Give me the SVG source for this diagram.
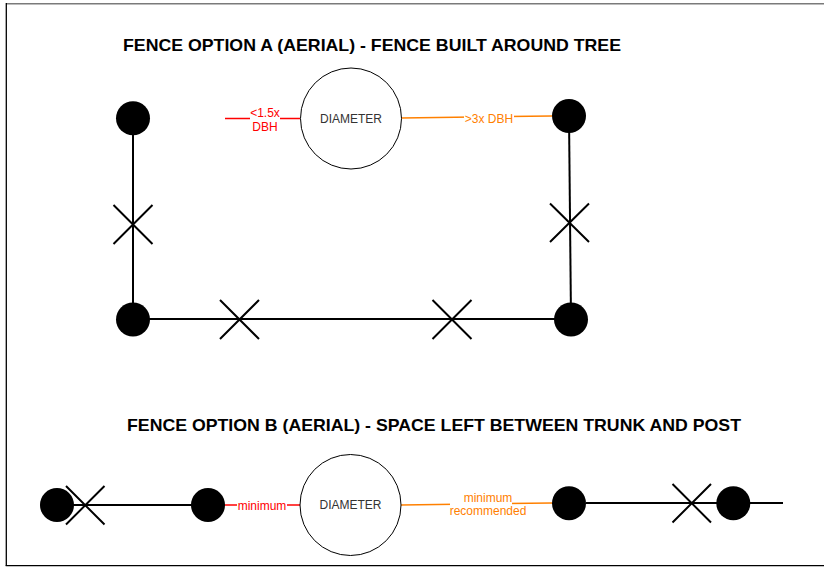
<svg xmlns="http://www.w3.org/2000/svg" width="824" height="568" viewBox="0 0 824 568">
<style>
.post{fill:#000}
.fence{stroke:#000;stroke-width:2;fill:none}
.xm{stroke:#000;stroke-width:2;fill:none}
.tree{fill:#fff;stroke:#000;stroke-width:1}
.tt{font-family:"Liberation Sans",Arial,sans-serif;font-size:12px;fill:#333;text-anchor:middle}
.title{font-family:"Liberation Sans",Arial,sans-serif;font-size:16.5px;font-weight:bold;fill:#000}
.lbl{font-family:"Liberation Sans",Arial,sans-serif;font-size:12px;text-anchor:middle}
.red{stroke:#ff0000;stroke-width:1.5;fill:none}
.org{stroke:#ff8000;stroke-width:1.5;fill:none}
.bg{fill:#fff}
</style>
<rect x="0" y="0" width="824" height="568" fill="#fff"/>
<g id="frame">
<line x1="6" y1="3.7" x2="824" y2="3.7" stroke="#7a7a7a" stroke-width="1.5"/>
<line x1="6.3" y1="3" x2="6.3" y2="566" stroke="#000" stroke-width="1.3"/>
<line x1="5.7" y1="565.6" x2="824" y2="565.6" stroke="#000" stroke-width="1.3"/>
</g>
<g id="titles">
<text class="title" x="123" y="51" textLength="498" lengthAdjust="spacingAndGlyphs">FENCE OPTION A (AERIAL) - FENCE BUILT AROUND TREE</text>
<text class="title" x="127" y="431" textLength="614" lengthAdjust="spacingAndGlyphs">FENCE OPTION B (AERIAL) - SPACE LEFT BETWEEN TRUNK AND POST</text>
</g>
<g id="connectors">
<line class="fence" x1="133" y1="118" x2="133" y2="319"/>
<line class="fence" x1="569" y1="116" x2="571" y2="319"/>
<line class="fence" x1="133" y1="319" x2="571" y2="319"/>
<line class="red" x1="225" y1="118.5" x2="300" y2="118.5"/>
<line class="org" x1="401" y1="118" x2="552" y2="116"/>
<line class="fence" x1="73" y1="505" x2="192" y2="505"/>
<line class="red" x1="225" y1="505" x2="300" y2="505"/>
<line class="org" x1="401" y1="505" x2="552" y2="503"/>
<line class="fence" x1="586" y1="503" x2="783" y2="503"/>
</g>
<g id="labels">
<rect class="bg" x="250" y="105" width="30" height="27"/>
<text class="lbl" x="265" y="117" fill="#ff0000">&lt;1.5x</text>
<text class="lbl" x="265" y="130.5" fill="#ff0000">DBH</text>
<rect class="bg" x="464" y="110" width="50" height="14"/>
<text class="lbl" x="489" y="123" fill="#ff8000">&gt;3x DBH</text>
<rect class="bg" x="237" y="498" width="50" height="14"/>
<text class="lbl" x="262" y="509.5" fill="#ff0000">minimum</text>
<rect class="bg" x="450" y="489" width="62" height="29"/>
<text class="lbl" x="488" y="501.5" fill="#ff8000">minimum</text>
<text class="lbl" x="488" y="515" fill="#ff8000">recommended</text>
</g>
<g id="tree-a"><circle class="tree" cx="351" cy="118.5" r="50.5"/><text class="tt" x="351" y="122.5">DIAMETER</text></g>
<g id="tree-b"><circle class="tree" cx="350.5" cy="505" r="50.5"/><text class="tt" x="350.5" y="509">DIAMETER</text></g>
<g id="post-a1"><circle class="post" cx="133" cy="118.3" r="17"/></g>
<g id="post-a2"><circle class="post" cx="569" cy="116" r="17"/></g>
<g id="post-a3"><circle class="post" cx="133" cy="319.5" r="17"/></g>
<g id="post-a4"><circle class="post" cx="571" cy="319.5" r="17"/></g>
<g id="post-b1"><circle class="post" cx="57" cy="505" r="17"/></g>
<g id="post-b2"><circle class="post" cx="208" cy="505" r="17"/></g>
<g id="post-b3"><circle class="post" cx="569" cy="503.3" r="17"/></g>
<g id="post-b4"><circle class="post" cx="733.3" cy="503.3" r="17"/></g>
<g id="x-a1"><path class="xm" d="M113.5 205 L152.5 244 M113.5 244 L152.5 205"/></g>
<g id="x-a2"><path class="xm" d="M550 203.5 L589 242 M550 242 L589 203.5"/></g>
<g id="x-a3"><path class="xm" d="M220 300 L259 339 M220 339 L259 300"/></g>
<g id="x-a4"><path class="xm" d="M432.5 300 L471.5 339 M432.5 339 L471.5 300"/></g>
<g id="x-b1"><path class="xm" d="M66 486 L104.5 524.5 M66 524.5 L104.5 486"/></g>
<g id="x-b2"><path class="xm" d="M672.5 484 L711 522.5 M672.5 522.5 L711 484"/></g>
</svg>
